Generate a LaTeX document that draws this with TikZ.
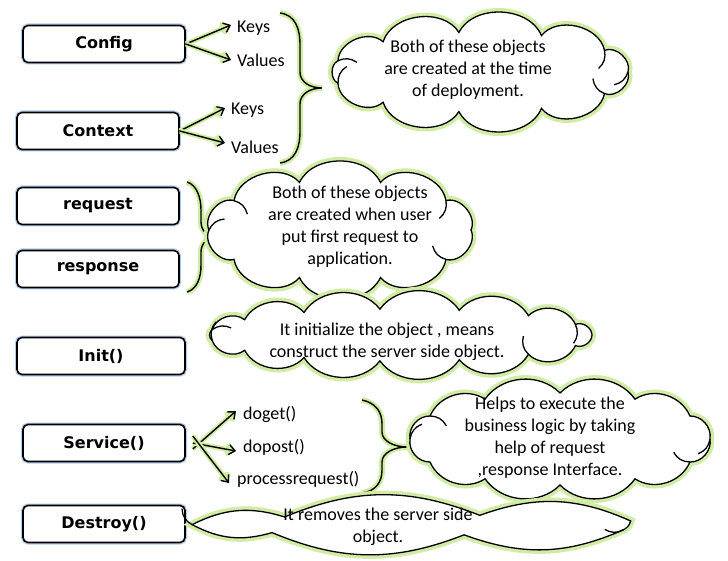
\documentclass[tikz,border=0pt]{standalone}
\usepackage{fontspec}
\setmainfont{Carlito}
\newfontfamily\boxfont{DejaVu Sans}
\usepackage{tikz}
\usetikzlibrary{arrows.meta,calc}
\definecolor{glowgreen}{RGB}{208,236,165}
\definecolor{glowblue}{RGB}{175,205,240}

\tikzset{
  objbox/.style={draw, line width=1.6pt, rounded corners=5pt, fill=white,
    minimum width=162pt, minimum height=37pt,
    font=\boxfont\bfseries\fontsize{16}{19}\selectfont,
    preaction={draw=glowblue, line width=4pt}},
  puffline/.style={draw, line width=1.3pt, fill=white,
    preaction={draw=glowgreen, line width=8pt}},
  curlline/.style={draw, line width=1.3pt},
  note/.style={align=center, inner sep=0pt, font=\fontsize{18}{22}\selectfont},
  item/.style={anchor=west, inner sep=0pt, font=\fontsize{18}{22}\selectfont},
  link/.style={->, line width=1.4pt, preaction={draw=glowgreen, line width=5pt}},
  curly/.style={line width=1.4pt, preaction={draw=glowgreen, line width=6pt}},
}

% cloud round a named centre: #1 name, #2 #3 half axes, #4 puffs, #5 bend, #6 phase, #7 curls
\newcommand{\puffs}[7]{%
  \draw[puffline] ([shift={({#2*cos(#6)},{-#3*sin(#6)})}]#1.center)
    \foreach \k in {1,...,#4} {
      to[bend right=#5] ([shift={({#2*cos(#6+\k*360/#4)},{-#3*sin(#6+\k*360/#4)})}]#1.center)
    } -- cycle;
  \pgfmathsetmacro{\curlturn}{150-#5}
  \foreach \k in {#7} {
    \coordinate (cp) at ([shift={({#2*cos(#6+\k*360/#4)},{-#3*sin(#6+\k*360/#4)})}]#1.center);
    \coordinate (cn) at ([shift={({#2*cos(#6+(\k+1)*360/#4)},{-#3*sin(#6+(\k+1)*360/#4)})}]#1.center);
    \draw[curlline] (cp) to[bend left=30] ($(cp)!19pt!\curlturn:(cn)$);
  }}

\begin{document}
\begin{tikzpicture}[x=1pt, y=-1pt, >={Straight Barb[length=6pt,width=10pt]}]
        \useasboundingbox[fill=white] (0,0) rectangle (728,561);
        % Objects on the left
        \node[objbox] (config) at (104,44) {Config};
        \node[objbox] (context) at (98,131) {Context};
        \node[objbox] (request) at (98,206) {request};
        \node[objbox] (response) at (98,269) {response};
        \node[objbox, minimum width=168pt] (init) at (101,356) {Init()};
        \node[objbox] (service) at (104,443) {Service()};
        \node[objbox] (destroy) at (104,524) {Destroy()};
        % Keys and values
        \node[item] (cfgkeys) at (237,28) {Keys};
        \node[item] (cfgvals) at (237,60) {Values};
        \node[item] (ctxkeys) at (231,110) {Keys};
        \node[item] (ctxvals) at (231,147) {Values};
        \draw[link] (config.east) -- ([xshift=-6pt,yshift=3pt]cfgkeys.west);
        \draw[link] (config.east) -- ([xshift=-6pt]cfgvals.west);
        \draw[link] (context.east) -- ([xshift=-6pt,yshift=2pt]ctxkeys.west);
        \draw[link] (context.east) -- ([xshift=-6pt,yshift=4pt]ctxvals.west);
        % Service methods
        \node[item] (doget) at (243,414) {doget()};
        \node[item] (dopost) at (243,447) {dopost()};
        \node[item] (procreq) at (237,479) {processrequest()};
        \draw[link] ([xshift=7pt,yshift=-6pt]service.east) -- ([xshift=-7pt,yshift=3pt]doget.west);
        \draw[link] ([xshift=7pt]service.east) -- ([xshift=-7pt,yshift=-4pt]dopost.west);
        \draw[link] ([xshift=7pt,yshift=7pt]service.east) -- ([xshift=-8pt,yshift=-4pt]procreq.west);
        % Braces
        \draw[curly] (280,13) .. controls (295,15) and (300,28) .. (300,45) -- (300,72)
            .. controls (300,82) and (310,88) .. (322,88) .. controls (310,88) and (300,94) .. (300,104)
            -- (300,131) .. controls (300,148) and (295,161) .. (280,163);
        \draw[curly] (187,182) .. controls (197,185) and (201,198) .. (201,210) -- (201,222)
            .. controls (201,231) and (208,237) .. (217,237) .. controls (208,237) and (201,243) .. (201,252)
            -- (201,265) .. controls (201,278) and (197,289) .. (187,292);
        \draw[curly] (362,400) .. controls (376,403) and (382,412) .. (382,424) -- (382,432)
            .. controls (382,441) and (394,447) .. (407,447) .. controls (394,447) and (382,453) .. (382,462)
            -- (382,470) .. controls (382,482) and (376,491) .. (362,493);
        % Clouds
        \coordinate (deploy) at (480,72);
        \puffs{deploy}{148}{40}{11}{65}{0}{0,1,5,6,10}
        \node[note] (deploytxt) at (468,70) {Both of these objects\\are created at the time\\of deployment.};
        \coordinate (firstreq) at (340,230);
        \puffs{firstreq}{131}{50}{10}{65}{0}{1,4,5,9}
        \node[note] (firstreqtxt) at (350,227) {Both of these objects\\are created when user\\put first request to\\application.};
        \coordinate (initnote) at (400,335);
        \puffs{initnote}{192}{26}{15}{55}{0}{1,7,8,13}
        \node[note] (initnotetxt) at (387,342) {It initialize the object , means\\construct the server side object.};
        \coordinate (servnote) at (560,439);
        \puffs{servnote}{150}{46}{12}{50}{0}{0,5,6,11}
        \node[note] (servnotetxt) at (550,438) {Helps to execute the\\business logic by taking\\help of request\\,response Interface.};
        \coordinate (destnote) at (421,525);
        \puffs{destnote}{229}{10}{7}{22}{23.7}{3,6}
        \node[note] (destnotetxt) at (378,527) {It removes the server side\\object.};
\end{tikzpicture}
\end{document}
